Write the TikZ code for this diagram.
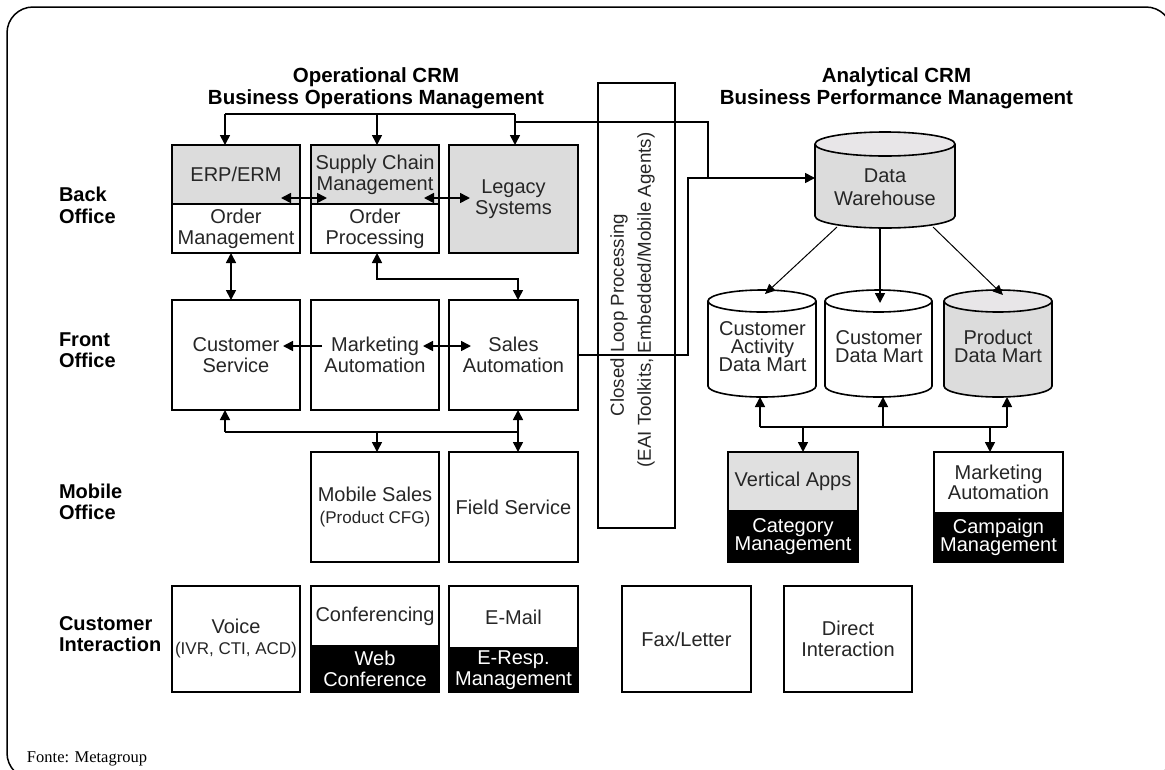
\documentclass[tikz,border=0pt]{standalone}
\usepackage{fontspec}
\setmainfont{Liberation Sans}
\newfontfamily\fontefont{Liberation Serif}
\usetikzlibrary{arrows.meta,calc}
\definecolor{boxgray}{HTML}{DCDCDC}
\definecolor{vagray}{HTML}{E0E0E0}
\definecolor{topgray}{HTML}{E8E6E8}
\definecolor{txt}{HTML}{262626}

\newcommand\drawcyl[7]{%
  \pgfmathsetmacro\cyA{(#1+#3)/2}%
  \pgfmathsetmacro\cyR{(#3-#1)/2}%
  \pgfmathsetmacro\cyT{#2+#5}%
  \pgfmathsetmacro\cyB{#4-#5}%
  \pgfmathsetmacro\cyKx{0.5523*\cyR}%
  \pgfmathsetmacro\cyKy{0.5523*#5}%
  \filldraw[cylline, fill=#6] (#1,\cyT) -- (#1,\cyB) .. controls (#1,{\cyB+\cyKy}) and ({\cyA-\cyKx},#4) .. (\cyA,#4) .. controls ({\cyA+\cyKx},#4) and (#3,{\cyB+\cyKy}) .. (#3,\cyB) -- (#3,\cyT);
  \filldraw[cylline, fill=#7] (\cyA,\cyT) ellipse [x radius=\cyR, y radius=#5];
}

\tikzset{
  every node/.style={inner sep=0pt, outer sep=0pt},
  box/.style={draw, line width=1.6pt, fill=white, align=center, text=txt,
    font=\fontsize{20}{21}\selectfont, anchor=north west, minimum width=128pt},
  graybox/.style={box, fill=boxgray},
  blackbox/.style={box, fill=black, text=white},
  lab/.style={font=\fontsize{20}{21.5}\selectfont\bfseries, align=left, anchor=west},
  head/.style={font=\fontsize{20.5}{22}\selectfont\bfseries, align=center},
  cyltext/.style={font=\fontsize{20}{18}\selectfont, align=center, text=txt},
  vtext/.style={rotate=90, text=txt, font=\fontsize{18.7}{22}\selectfont},
  ghost/.style={anchor=north west},
  cylline/.style={line width=1.6pt},
  conn/.style={line width=1.6pt},
  arr/.style={conn, -{Triangle[length=10pt,width=10pt]}},
  darr/.style={conn, {Triangle[length=10pt,width=10pt]}-{Triangle[length=10pt,width=10pt]}},
  thinarr/.style={line width=1pt, -{Triangle[length=10pt,width=9pt]}},
  midarr/.style={line width=1.5pt, -{Triangle[length=10pt,width=10pt]}},
}

\begin{document}
\begin{tikzpicture}[x=1pt, y=-1pt]
\useasboundingbox (0,0) rectangle (1165,769);
\begin{scope}
  \clip (0,0) rectangle (1165,769);
  \draw[line width=1.5pt, rounded corners=26pt] (7,7) rectangle (1172,779);
\end{scope}

% headers
\node[head] (ophead) at (376,88) {Operational CRM\\Business Operations Management};
\node[head] (anhead) at (896.5,88.5) {Analytical CRM\\Business Performance Management};

% row labels
\node[lab] (lback) at (59,205.5) {Back\\Office};
\node[lab] (lfront) at (59,350) {Front\\Office};
\node[lab] (lmobile) at (59,502) {Mobile\\Office};
\node[lab] (lcust) at (59,634) {Customer\\Interaction};

% closed loop box
\node[draw, line width=1.6pt, minimum width=77pt, minimum height=445pt, anchor=north west] (clp) at (598,83) {};
\node[vtext] (clpt1) at (619,315) {Closed Loop Processing};
\node[vtext] (clpt2) at (646,300) {(EAI Toolkits, Embedded/Mobile Agents)};

% back office
\node[graybox, minimum height=59pt] (erp) at (172,145) {ERP/ERM};
\node[box, minimum height=49pt] (om) at (172,204) {Order\\Management};
\node[graybox, minimum height=59pt] (scm) at (311,145) {Supply Chain\\Management};
\node[box, minimum height=49pt] (op) at (311,204) {Order\\Processing};
\node[graybox, minimum height=108pt, minimum width=129pt] (leg) at (449,145) {Legacy\\Systems};

% front office
\node[box, minimum height=110pt] (cs) at (172,300) {Customer\\Service};
\node[box, minimum height=110pt] (ma) at (311,300) {Marketing\\Automation};
\node[box, minimum height=110pt, minimum width=129pt] (sa) at (449,300) {Sales\\Automation};

% mobile office
\node[box, minimum height=110pt] (ms) at (311,452) {Mobile Sales\\[1pt]\fontsize{17}{20}\selectfont(Product CFG)};
\node[box, minimum height=110pt, minimum width=129pt] (fs) at (449,452) {Field Service};

% customer interaction
\node[box, minimum height=106pt] (voice) at (172,586) {Voice\\\fontsize{17}{20}\selectfont(IVR, CTI, ACD)};
\node[box, minimum height=60pt] (conf) at (311,586) {Conferencing};
\node[blackbox, minimum height=46pt] (webc) at (311,646) {Web\\Conference};
\node[box, minimum height=62pt, minimum width=129pt] (email) at (449,586) {E-Mail};
\node[blackbox, minimum height=44pt, minimum width=129pt] (eresp) at (449,648) {E-Resp.\\Management};
\node[box, minimum height=106pt, minimum width=129pt] (fax) at (622,586) {Fax/Letter};
\node[box, minimum height=106pt] (direct) at (784,586) {Direct\\Interaction};

% analytical side boxes
\node[box, fill=vagray, minimum width=130pt, minimum height=59pt, font=\fontsize{20}{18}\selectfont] (va) at (728,452) {Vertical Apps};
\node[blackbox, minimum width=130pt, minimum height=51pt, font=\fontsize{20}{18}\selectfont] (catm) at (728,511) {Category\\Management};
\node[box, minimum width=129pt, minimum height=61pt, font=\fontsize{20}{18}\selectfont] (mka) at (934,452) {Marketing\\Automation};
\node[blackbox, minimum width=129pt, minimum height=49pt, font=\fontsize{20}{18}\selectfont] (campm) at (934,513) {Campaign\\Management};

% cylinders
\drawcyl{815}{132}{955}{228}{12}{boxgray}{topgray}
\node[ghost, minimum width=140pt, minimum height=96pt] (dw) at (815,132) {};
\node[cyltext, font=\fontsize{20}{23}\selectfont] (dwt) at (885,187.5) {Data\\Warehouse};

\drawcyl{708}{290}{816}{397}{11}{white}{white}
\node[ghost, minimum width=108pt, minimum height=107pt] (cadm) at (708,290) {};
\node[cyltext] (cadmt) at (762.5,347) {Customer\\Activity\\Data Mart};

\drawcyl{825}{290}{932}{397}{11}{white}{white}
\node[ghost, minimum width=107pt, minimum height=107pt] (cdm) at (825,290) {};
\node[cyltext] (cdmt) at (879,346.5) {Customer\\Data Mart};

\drawcyl{944}{290}{1052}{397}{11}{boxgray}{topgray}
\node[ghost, minimum width=108pt, minimum height=107pt] (pdm) at (944,290) {};
\node[cyltext] (pdmt) at (998,346.5) {Product\\Data Mart};

% ---- connectors: top
\coordinate (t1) at (225,114);
\coordinate (t2) at (377,114);
\coordinate (t3) at (515,114);
\coordinate (t4) at (515,122);
\coordinate (t5) at (708,122);
\coordinate (bend) at (688,178);
\coordinate (dwin) at (815,178);
\draw[conn] (t1) -- (t3);
\draw[arr] (t1) -- (t1 |- erp.north);
\draw[arr] (t2) -- (t2 |- scm.north);
\draw[arr] (t3) -- (t3 |- leg.north);
\draw[conn] (t4) -- (t5) -- (t5 |- bend);
\draw[arr] (sa.east) -| (bend) -- (dwin);

% back office horizontal
\coordinate (e1) at (281,198);
\coordinate (e2) at (327,198);
\coordinate (e3) at (424,198);
\coordinate (e4) at (470,198);
\draw[darr] (e1) -- (e2);
\draw[darr] (e3) -- (e4);

% back to front
\coordinate (c1) at (231,280);
\coordinate (c2) at (377,279);
\coordinate (c3) at (518,279);
\draw[darr] (c1 |- om.south) -- (c1 |- cs.north);
\draw[darr] (c2 |- op.south) -- (c2) -- (c3) -- (c3 |- sa.north);

% front horizontal
\coordinate (m1) at (322,346);
\coordinate (m2) at (283,346);
\coordinate (m3) at (423,346);
\coordinate (m4) at (471,346);
\draw[arr] (m1) -- (m2);
\draw[darr] (m3) -- (m4);

% front to mobile
\coordinate (b1) at (225,432);
\coordinate (b2) at (377,432);
\coordinate (b3) at (518,432);
\draw[conn] (b1) -- (b3);
\draw[arr] (b1) -- (b1 |- cs.south);
\draw[arr] (b2) -- (b2 |- ms.north);
\draw[darr] (b3 |- sa.south) -- (b3 |- fs.north);

% warehouse to marts
\coordinate (w1) at (837,227);
\coordinate (w2) at (880,228);
\coordinate (w3) at (933,227);
\coordinate (k1) at (765,294);
\coordinate (k2) at (880,303);
\coordinate (k3) at (1003,295);
\draw[thinarr] (w1) -- (k1);
\draw[midarr] (w2) -- (k2);
\draw[thinarr] (w3) -- (k3);

% marts to apps
\coordinate (d1) at (760,427);
\coordinate (d2) at (883,427);
\coordinate (d3) at (1007,427);
\coordinate (d4) at (803,427);
\coordinate (d5) at (990,427);
\draw[conn] (d1) -- (d3);
\draw[arr] (d1) -- (d1 |- cadm.south);
\draw[arr] (d2) -- (d2 |- cdm.south);
\draw[arr] (d3) -- (d3 |- pdm.south);
\draw[arr] (d4) -- (d4 |- va.north);
\draw[arr] (d5) -- (d5 |- mka.north);

% source
\node[anchor=west, font=\fontefont\fontsize{16.5}{18}\selectfont] (fonte) at (27,759) {Fonte: Metagroup};
\end{tikzpicture}
\end{document}
